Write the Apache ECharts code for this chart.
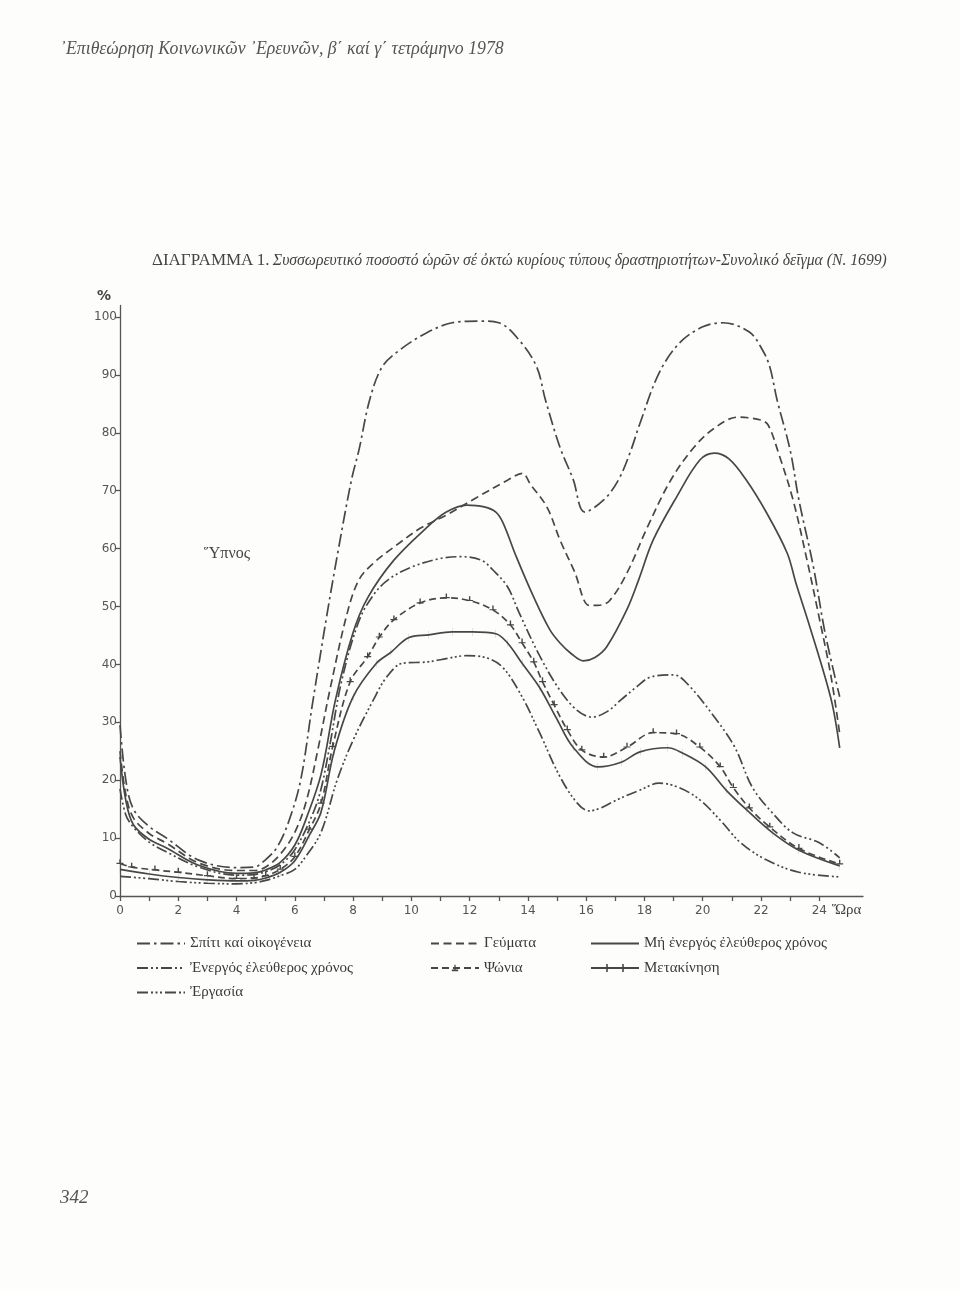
<!DOCTYPE html>
<html>
<head>
<meta charset="utf-8">
<script src="https://cdn.jsdelivr.net/npm/echarts@6/dist/echarts.min.js"></script>
<style>
html,body{margin:0;padding:0;background:#fdfdfc;}
#chart{width:960px;height:1289px;}
</style>
</head>
<body>
<div id="chart"></div>
<script>
// ---- Data (cumulative % of hours) ----
const xTickValues = [0,1,2,3,4,5,6,7,8,9,10,11,12,13,14,15,16,17,18,19,20,21,22,23,24];
const xLabelValues = [0,2,4,6,8,10,12,14,16,18,20,22,24];
const yLabelValues = [0,10,20,30,40,50,60,70,80,90,100];

const homeHours = [0,0.2,0.46,1,1.6,2.7,4,4.6,5,5.4,5.8,6.2,6.6,7.1,7.5,7.95,8.2,8.57,9.0,9.6,10.5,11.4,12.3,13.0,13.7,14.3,14.6,15.1,15.55,15.95,16.6,17.1,17.5,17.85,18.5,19.2,20.0,20.7,21.6,22.05,22.3,22.55,23.0,23.3,23.8,24.2,24.7];
const homeValues = [29.5,20,15,12,10,6.2,4.9,5,6.3,8.5,13,20,33,48.5,60,72,77,85.7,91.4,94.3,97.2,99,99.3,99,96,91.4,85.7,77.5,72,66.3,68.4,71.8,76.5,81.7,90.3,95.5,98.3,99,97.4,94.3,91.4,85.7,77,68.4,56.8,45.4,34.4];

const mealsHours = [0,0.2,0.46,1,1.6,2.7,4,4.6,5,5.5,6,6.4,6.8,7.2,7.8,8.2,8.7,9.6,10.3,11.2,12.2,13.3,13.8,14.1,14.65,15.1,15.6,16.1,16.4,16.8,17.4,18.1,18.9,19.7,20.4,21.2,22.0,22.25,22.6,23.1,23.6,24.0,24.4,24.7];
const mealsValues = [25,17.5,13.5,10.8,9.1,5.7,4.4,4.4,5.0,7.2,11,16.5,25.5,35.5,48.9,54.6,57.5,61,63.5,65.8,68.7,71.8,73,71,67.2,61.5,56,50.2,50.2,51,55.8,63.7,71.8,77.5,80.8,82.7,82.2,81.3,76.5,68.4,57.5,48,38,28];

const passiveHours = [0,0.2,0.46,1,1.6,2.7,4,4.6,5,5.5,6,6.4,6.9,7.4,8.0,8.5,9.4,10.5,11.2,11.9,12.5,12.9,13.15,13.6,14.2,14.75,15.1,15.5,15.9,16.3,16.7,17.4,17.8,18.3,19.1,19.9,20.4,20.9,21.5,22.2,22.9,23.2,23.6,24.1,24.45,24.7];
const passiveValues = [24,16.5,12.3,9.8,8.3,5.3,3.9,4,4.5,5.8,8.8,13.5,21,34,45.5,51.5,58,63.5,66.3,67.5,67.2,66.3,64.4,58.6,51.6,46,43.7,41.8,40.6,41.2,43,49.5,54.6,61.5,68.9,75.3,76.5,75.5,71.8,66.1,59.2,54,47.7,39.5,33,25.6];

const activeHours = [0,0.2,0.46,1,1.6,2.7,4,4.6,5,5.5,6,6.6,6.9,7.2,7.6,8.2,8.7,9.2,10,11,11.7,12.4,12.8,13.3,13.7,14.4,15.1,15.7,16.2,16.7,17.2,17.7,18.2,19.0,19.5,20.4,21.1,21.7,22.4,23.1,24.0,24.7];
const activeValues = [18.5,14,11.9,9.3,7.6,5.0,3.6,3.7,4.2,5.4,8,14,18.5,26,37,47.5,52,54.6,56.8,58.3,58.6,58,56.3,53.4,48.9,41.5,35.5,32,30.9,31.8,33.9,36,37.8,38.2,36.5,30.9,25.7,18.8,14.3,10.9,9.2,6.6];

const shopHours = [0,0.4,1.2,2,3,4,4.6,5,5.5,6,6.5,6.9,7.3,7.9,8.5,8.9,9.4,10.3,11.2,12.0,12.8,13.4,13.8,14.2,14.5,14.9,15.35,15.85,16.6,17.4,18.3,19.1,19.9,20.6,21.05,21.6,22.3,23.3,24.7];
const shopValues = [5.6,5,4.5,4.1,3.5,3.0,3.1,3.5,4.6,6.8,11.5,16,25.8,37,41.3,44.7,47.7,50.6,51.5,51,49.4,46.8,43.7,40.4,37,33,28.7,25.2,24,25.7,28.2,28,25.7,22.3,18.7,15.2,11.9,8.2,5.5];

const travelHours = [0,1,2,3,4,4.6,5,5.5,6,6.5,6.9,7.35,8.0,8.8,9.3,9.9,10.6,11.4,12.1,12.9,13.3,13.8,14.4,15.0,15.55,16.4,17.2,17.85,18.8,19.3,20.1,20.8,21.5,22.4,23.3,24.7];
const travelValues = [4.6,3.8,3.2,2.8,2.6,2.7,3.1,4.1,6.1,10.5,14.5,25,34.4,40.2,42.1,44.6,45.1,45.6,45.6,45.3,43.7,40.2,36,30.5,25.7,22.3,23.1,24.9,25.6,24.7,22.3,18.3,14.9,10.9,7.9,5.2];

const workHours = [0,1,2,3,4,4.6,5,5.5,6,6.4,6.9,7.45,8.0,8.7,9.15,9.7,10.5,11.0,11.9,12.6,13.15,13.8,14.4,15.1,15.7,16.1,16.5,17.05,17.85,18.5,19.2,19.9,20.6,21.3,22.2,23.3,24.7];
const workValues = [3.4,3.0,2.5,2.2,2.1,2.3,2.7,3.5,4.6,7,11,20,26.9,33.9,37.8,40.2,40.4,40.8,41.5,41.1,39.4,34.4,28.2,20.6,16,14.7,15.2,16.6,18.3,19.5,18.7,16.6,13.1,9.2,6.2,4.1,3.3];

const seriesNames = [
  'Σπίτι καί οἰκογένεια',
  'Γεύματα',
  'Μή ἐνεργός ἐλεύθερος χρόνος',
  'Ἐνεργός ἐλεύθερος χρόνος',
  'Ψώνια',
  'Μετακίνηση',
  'Ἐργασία'
];

// ---- Chart ----
const INK = '#474747';
const zip = (xs, ys) => xs.map((x, i) => [x, ys[i]]);

function lineSeries(name, hours, values, dash, extra) {
  return Object.assign({
    type: 'line',
    name: name,
    data: zip(hours, values),
    smooth: 0.35,
    showSymbol: false,
    symbol: 'none',
    symbolKeepAspect: true,
    silent: true,
    lineStyle: { color: INK, width: 1.7, type: dash },
    itemStyle: { color: INK },
    z: 3
  }, extra || {});
}

const serif = '"Liberation Serif", "DejaVu Serif", serif';
const sans = '"DejaVu Sans", "Liberation Sans", sans-serif';

const chart = echarts.init(document.getElementById('chart'), null, { renderer: 'canvas' });

const legendText = { color: '#3a3a3a', fontFamily: serif, fontSize: 15 };
function legendItem(name, showMark, icon) {
  const it = { name: name, itemStyle: { opacity: showMark ? 1 : 0 } };
  if (icon) { it.icon = icon; it.itemStyle = { opacity: 1, color: INK }; }
  return it;
}
function legendBlock(left, items) {
  return {
    orient: 'vertical',
    left: left,
    top: 936,
    itemWidth: 48,
    itemHeight: 8,
    itemGap: 9.5,
    padding: 0,
    selectedMode: false,
    textStyle: legendText,
    data: items
  };
}
// legend icon for the "travel" line: a line crossed by two small ticks
const travelIcon = 'path://M0,3h48v2h-48zM15.2,0h1.6v8h-1.6zM31.2,0h1.6v8h-1.6z';

chart.setOption({
  backgroundColor: '#fdfdfc',
  animation: false,
  grid: { left: 120, right: 97, top: 305.4, bottom: 393, containLabel: false, outerBoundsMode: 'none' },
  xAxis: {
    type: 'value', min: 0, max: 25.5,
    axisLine: { show: true, onZero: false, lineStyle: { color: '#555', width: 1.3 } },
    axisTick: { show: true, length: 5, customValues: xTickValues, lineStyle: { color: '#555', width: 1.3 } },
    axisLabel: { customValues: xLabelValues, color: '#555', fontFamily: sans, fontSize: 12, margin: 9 },
    splitLine: { show: false }
  },
  yAxis: {
    type: 'value', min: 0, max: 102,
    axisLine: { show: true, onZero: false, lineStyle: { color: '#555', width: 1.3 } },
    axisTick: { show: true, length: 5, customValues: yLabelValues, lineStyle: { color: '#555', width: 1.3 } },
    axisLabel: { customValues: yLabelValues, color: '#555', fontFamily: sans, fontSize: 12, margin: 3 },
    splitLine: { show: false }
  },
  legend: [
    legendBlock(136, [legendItem(seriesNames[0]), legendItem(seriesNames[3]), legendItem(seriesNames[6])]),
    legendBlock(430, [legendItem(seriesNames[1]), legendItem(seriesNames[4], true)]),
    legendBlock(590, [legendItem(seriesNames[2]), legendItem(seriesNames[5], false, travelIcon)])
  ],
  series: [
    lineSeries(seriesNames[0], homeHours, homeValues, [13, 4, 2.5, 4]),
    lineSeries(seriesNames[1], mealsHours, mealsValues, [8, 4.5]),
    lineSeries(seriesNames[2], passiveHours, passiveValues, 'solid'),
    lineSeries(seriesNames[3], activeHours, activeValues, [11, 3, 2, 3, 2, 3]),
    lineSeries(seriesNames[4], shopHours, shopValues, [7, 4], {
      showSymbol: true,
      symbol: 'path://M4,0h2v6h4v2h-10v-2h4z',
      symbolSize: [7, 6],
      symbolOffset: [0, -2]
    }),
    lineSeries(seriesNames[5], travelHours, travelValues, 'solid', {
      showSymbol: true,
      symbol: 'path://M0,0h1v10h-1z',
      symbolSize: [1.4, 8]
    }),
    lineSeries(seriesNames[6], workHours, workValues, [11, 3, 2, 2.5, 2, 2.5, 2, 3])
  ],
  graphic: [
    { type: 'text', left: 60, top: 40,
      style: { text: '᾿Επιθεώρηση Κοινωνικῶν ᾿Ερευνῶν, β΄ καί γ΄ τετράμηνο 1978',
               fill: '#555', font: 'italic 17.8px ' + serif } },
    { type: 'text', left: 152, top: 252,
      style: { text: '{a|ΔΙΑΓΡΑΜΜΑ} {a|1.} {b|Συσσωρευτικό ποσοστό ὡρῶν σέ ὀκτώ κυρίους τύπους δραστηριοτήτων-Συνολικό δεῖγμα (Ν. 1699)}',
               rich: {
                 a: { fill: '#444', fontFamily: serif, fontSize: 17 },
                 b: { fill: '#444', fontFamily: serif, fontSize: 15.7, fontStyle: 'italic' }
               } } },
    { type: 'text', left: 97, top: 289,
      style: { text: '%', fill: '#444', font: 'bold 14px ' + sans } },
    { type: 'text', left: 204, top: 546,
      style: { text: 'Ὕπνος', fill: '#444', font: '16px ' + serif } },
    { type: 'text', left: 832, top: 903,
      style: { text: 'Ὥρα', fill: '#444', font: '15px ' + serif } },
    { type: 'text', left: 60, top: 1188,
      style: { text: '342', fill: '#555', font: 'italic 19px ' + serif } }
  ]
});
</script>
</body>
</html>
